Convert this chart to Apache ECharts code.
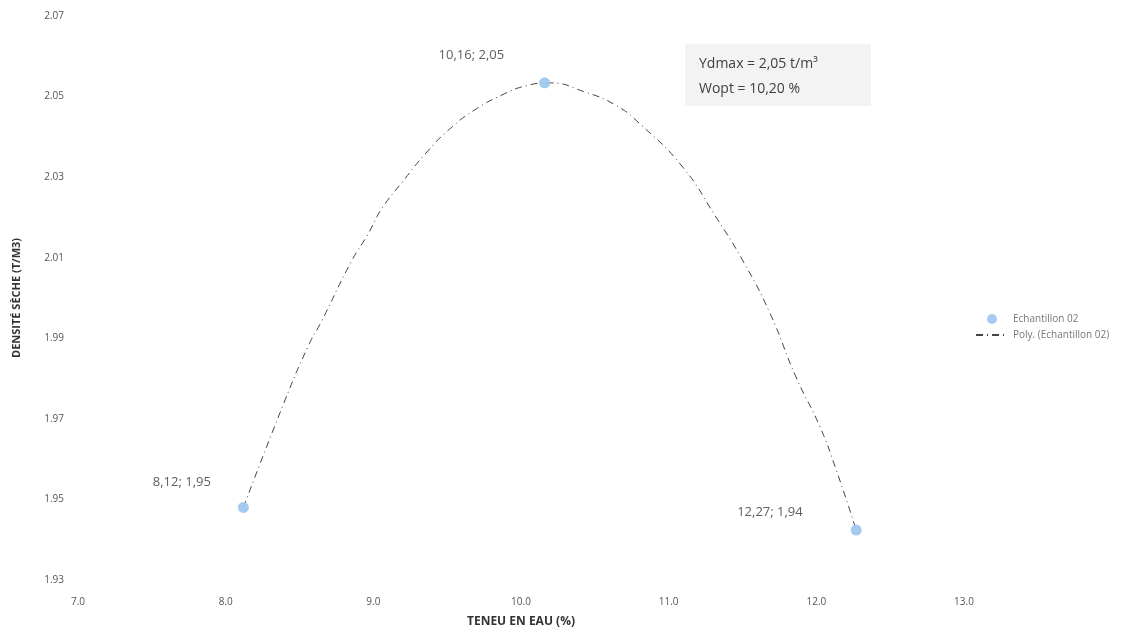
<html>
    <head>
        <meta charset="utf-8">
        <script src="https://cdn.jsdelivr.net/npm/echarts@6/dist/echarts.min.js"></script>
        <style>
            html, body { margin: 0; padding: 0; background: #fff; }
            #main { width: 1139px; height: 636px; }
        </style>
    </head>
    <body>
        <div id="main"></div>
        <script>
            // measured points (teneur en eau %, densite seche t/m3)
            var waterContent = [8.12, 10.16, 12.27];
            var dryDensity = [1.948, 2.0534, 1.9424];

            // polynomial trendline
            var trendX = [8.12, 8.395, 8.558, 8.646, 8.85, 8.966, 9.054, 9.19, 9.374, 9.531, 9.687, 9.871,
                10.027, 10.19, 10.435, 10.639, 10.80, 11.095, 11.32, 11.50, 11.685, 11.862, 12.025, 12.135, 12.27];
            var trendY = [1.948, 1.974, 1.988, 1.994, 2.009, 2.016, 2.022, 2.0285, 2.0367, 2.0424, 2.0467, 2.0504,
                2.0526, 2.0534, 2.0511, 2.0479, 2.0434, 2.0325, 2.0201, 2.0094, 1.9963, 1.9804, 1.968, 1.9573, 1.9424];

            var xTicks = [7, 8, 9, 10, 11, 12, 13];
            var yTicks = [1.93, 1.95, 1.97, 1.99, 2.01, 2.03, 2.05, 2.07];

            var labelOffsets = [[-22, -25], [-30, -28], [-43, -18]];

            var chart = echarts.init(document.getElementById('main'));

            var fr = function (v) {
                return v.toFixed(2).replace('.', ',');
            };

            var points = waterContent.map(function (x, i) {
                return {
                    value: [x, dryDensity[i]],
                    label: { offset: labelOffsets[i] }
                };
            });
            var trend = trendX.map(function (x, i) {
                return [x, trendY[i]];
            });

            option = {
                animation: false,
                backgroundColor: '#fff',
                textStyle: { fontFamily: 'Open Sans' },
                grid: { left: 78, right: 175, top: 16, bottom: 56 },
                legend: {
                    orient: 'vertical',
                    left: 970,
                    top: 309,
                    itemWidth: 32,
                    itemHeight: 10,
                    itemGap: 6,
                    textStyle: { color: '#777', fontSize: 10 },
                    data: ['Echantillon 02', 'Poly. (Echantillon 02)']
                },
                xAxis: {
                    type: 'value',
                    min: xTicks[0],
                    max: xTicks[xTicks.length - 1],
                    interval: 1,
                    name: 'TENEU EN EAU (%)',
                    nameLocation: 'middle',
                    nameGap: 36,
                    nameTextStyle: { color: '#333', fontSize: 12, fontWeight: 'bold' },
                    axisLine: { show: false },
                    axisTick: { show: false },
                    splitLine: { show: false },
                    axisLabel: {
                        color: '#555',
                        fontSize: 10,
                        margin: 17,
                        formatter: function (v) { return v.toFixed(1); }
                    }
                },
                yAxis: {
                    type: 'value',
                    min: yTicks[0],
                    max: yTicks[yTicks.length - 1],
                    interval: 0.02,
                    name: 'DENSITÉ SÈCHE (T/M3)',
                    nameLocation: 'middle',
                    nameGap: 56,
                    nameTextStyle: { color: '#333', fontSize: 11, fontWeight: 'bold' },
                    axisLine: { show: false },
                    axisTick: { show: false },
                    splitLine: { show: false },
                    axisLabel: {
                        color: '#555',
                        fontSize: 10,
                        margin: 14,
                        formatter: function (v) { return v.toFixed(2); }
                    }
                },
                graphic: [{
                    type: 'group',
                    left: 685,
                    top: 44,
                    children: [{
                        type: 'rect',
                        shape: { x: 0, y: 0, width: 186, height: 62 },
                        style: { fill: '#f3f3f3' }
                    }, {
                        type: 'text',
                        x: 14,
                        y: 8,
                        style: {
                            text: 'Ydmax = 2,05 t/m³\nWopt = 10,20 %',
                            fill: '#404040',
                            font: '14px "Open Sans"',
                            lineHeight: 25
                        }
                    }]
                }],
                series: [{
                    name: 'Poly. (Echantillon 02)',
                    type: 'line',
                    data: trend,
                    smooth: 0.5,
                    showSymbol: false,
                    symbol: 'none',
                    z: 2,
                    lineStyle: { color: '#444', width: 1, type: [7, 4, 1, 4] },
                    itemStyle: { color: '#444', opacity: 0 }
                }, {
                    name: 'Echantillon 02',
                    type: 'scatter',
                    data: points,
                    symbolSize: 11,
                    z: 3,
                    itemStyle: { color: '#9fc7ee', opacity: 0.95 },
                    label: {
                        show: true,
                        position: 'left',
                        distance: 5,
                        color: '#555',
                        fontSize: 13,
                        formatter: function (p) {
                            return fr(p.value[0]) + '; ' + fr(p.value[1]);
                        }
                    }
                }]
            };
            chart.setOption(option);
        </script>
    </body>
</html>
